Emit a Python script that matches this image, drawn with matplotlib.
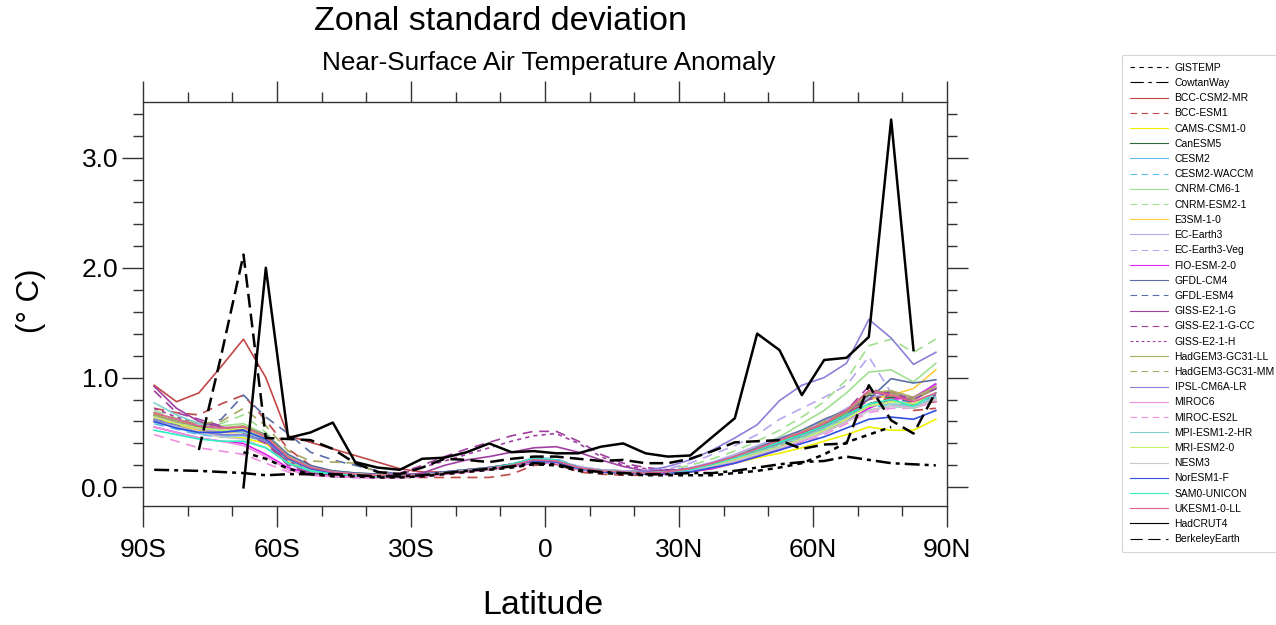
import numpy as np
import matplotlib.pyplot as plt
from matplotlib.lines import Line2D
from matplotlib.ticker import MultipleLocator

nan = np.nan
lat = np.arange(-87.5, 90, 5.0)

# model zonal standard deviation (deg C), 36 bands from 87.5S to 87.5N
models = {
    'BCC-CSM2-MR': [0.93, 0.78, 0.86, 1.10, 1.35, 1.00, 0.47, 0.41, 0.35, 0.29, 0.23, 0.17, 0.14, 0.14, 0.16, 0.18, 0.21, 0.25, 0.24, 0.18, 0.15, 0.14, 0.14, 0.15, 0.17, 0.22, 0.28, 0.35, 0.41, 0.48, 0.55, 0.66, 0.80, 0.88, 0.75, 0.78],
    'BCC-ESM1': [0.72, 0.68, 0.66, 0.76, 0.84, 0.61, 0.35, 0.20, 0.14, 0.11, 0.10, 0.09, 0.09, 0.09, 0.09, 0.09, 0.12, 0.20, 0.21, 0.14, 0.12, 0.11, 0.11, 0.12, 0.15, 0.19, 0.26, 0.33, 0.40, 0.47, 0.55, 0.64, 0.76, 0.82, 0.70, 0.72],
    'CAMS-CSM1-0': [0.62, 0.57, 0.50, 0.46, 0.45, 0.40, 0.24, 0.16, 0.13, 0.12, 0.11, 0.10, 0.11, 0.12, 0.14, 0.16, 0.19, 0.23, 0.23, 0.16, 0.14, 0.13, 0.12, 0.13, 0.14, 0.17, 0.22, 0.27, 0.31, 0.36, 0.42, 0.48, 0.55, 0.52, 0.52, 0.62],
    'CanESM5': [0.66, 0.60, 0.55, 0.52, 0.50, 0.44, 0.27, 0.18, 0.15, 0.13, 0.12, 0.11, 0.12, 0.14, 0.16, 0.18, 0.21, 0.25, 0.24, 0.18, 0.16, 0.15, 0.14, 0.15, 0.17, 0.21, 0.27, 0.34, 0.41, 0.49, 0.57, 0.68, 0.84, 0.82, 0.80, 0.90],
    'CESM2': [0.60, 0.54, 0.49, 0.47, 0.47, 0.42, 0.25, 0.16, 0.13, 0.12, 0.11, 0.10, 0.11, 0.13, 0.15, 0.17, 0.20, 0.26, 0.25, 0.18, 0.15, 0.14, 0.13, 0.14, 0.16, 0.20, 0.25, 0.31, 0.37, 0.44, 0.52, 0.60, 0.70, 0.74, 0.72, 0.80],
    'CESM2-WACCM': [0.58, 0.53, 0.48, 0.46, 0.48, 0.43, 0.26, 0.17, 0.13, 0.12, 0.11, 0.10, 0.11, 0.13, 0.15, 0.17, 0.21, 0.27, 0.26, 0.19, 0.15, 0.14, 0.13, 0.14, 0.16, 0.20, 0.26, 0.32, 0.38, 0.45, 0.53, 0.62, 0.72, 0.76, 0.74, 0.83],
    'CNRM-CM6-1': [0.68, 0.62, 0.58, 0.56, 0.58, 0.48, 0.28, 0.18, 0.14, 0.12, 0.11, 0.10, 0.11, 0.13, 0.15, 0.17, 0.21, 0.26, 0.25, 0.18, 0.15, 0.14, 0.13, 0.14, 0.17, 0.22, 0.29, 0.37, 0.46, 0.58, 0.70, 0.86, 1.05, 1.07, 0.96, 1.13],
    'CNRM-ESM2-1': [0.70, 0.63, 0.59, 0.58, 0.66, 0.50, 0.29, 0.18, 0.14, 0.12, 0.11, 0.10, 0.11, 0.13, 0.15, 0.17, 0.21, 0.26, 0.25, 0.18, 0.15, 0.14, 0.14, 0.16, 0.20, 0.26, 0.33, 0.42, 0.52, 0.64, 0.78, 0.98, 1.29, 1.35, 1.23, 1.35],
    'E3SM-1-0': [0.64, 0.58, 0.52, 0.50, 0.50, 0.44, 0.26, 0.17, 0.14, 0.12, 0.11, 0.10, 0.11, 0.13, 0.15, 0.17, 0.20, 0.25, 0.24, 0.18, 0.15, 0.14, 0.13, 0.14, 0.16, 0.21, 0.27, 0.34, 0.42, 0.50, 0.60, 0.70, 0.80, 0.84, 0.90, 1.07],
    'EC-Earth3': [0.64, 0.59, 0.53, 0.51, 0.52, 0.45, 0.27, 0.17, 0.14, 0.12, 0.11, 0.11, 0.12, 0.14, 0.16, 0.18, 0.21, 0.26, 0.25, 0.19, 0.16, 0.15, 0.14, 0.15, 0.18, 0.23, 0.30, 0.38, 0.45, 0.52, 0.60, 0.72, 0.82, 0.86, 0.82, 0.90],
    'EC-Earth3-Veg': [0.65, 0.60, 0.54, 0.52, 0.53, 0.46, 0.28, 0.18, 0.14, 0.12, 0.11, 0.11, 0.12, 0.14, 0.16, 0.18, 0.21, 0.26, 0.25, 0.19, 0.16, 0.15, 0.15, 0.17, 0.22, 0.30, 0.38, 0.48, 0.62, 0.72, 0.82, 0.93, 1.19, 0.86, 0.80, 0.95],
    'FIO-ESM-2-0': [0.55, 0.50, 0.45, 0.42, 0.40, 0.30, 0.18, 0.12, 0.10, 0.09, 0.09, 0.09, 0.10, 0.12, 0.14, 0.16, 0.19, 0.22, 0.22, 0.16, 0.14, 0.13, 0.12, 0.12, 0.14, 0.17, 0.22, 0.28, 0.34, 0.42, 0.50, 0.60, 0.72, 0.80, 0.82, 0.94],
    'GFDL-CM4': [0.60, 0.55, 0.50, 0.50, 0.55, 0.48, 0.30, 0.20, 0.15, 0.13, 0.12, 0.11, 0.12, 0.14, 0.16, 0.18, 0.21, 0.25, 0.24, 0.18, 0.15, 0.14, 0.13, 0.14, 0.17, 0.22, 0.28, 0.36, 0.44, 0.52, 0.62, 0.70, 0.80, 0.99, 0.95, 0.98],
    'GFDL-ESM4': [0.62, 0.57, 0.55, 0.62, 0.84, 0.64, 0.49, 0.32, 0.25, 0.20, 0.15, 0.12, 0.12, 0.14, 0.16, 0.18, 0.21, 0.26, 0.25, 0.18, 0.15, 0.14, 0.13, 0.14, 0.17, 0.21, 0.27, 0.34, 0.41, 0.48, 0.56, 0.65, 0.76, 0.80, 0.78, 0.85],
    'GISS-E2-1-G': [0.92, 0.72, 0.60, 0.55, 0.52, 0.42, 0.22, 0.13, 0.11, 0.11, 0.11, 0.11, 0.13, 0.20, 0.25, 0.28, 0.32, 0.36, 0.37, 0.32, 0.25, 0.19, 0.15, 0.15, 0.17, 0.20, 0.26, 0.32, 0.40, 0.48, 0.56, 0.66, 0.86, 0.86, 0.80, 0.90],
    'GISS-E2-1-G-CC': [0.88, 0.68, 0.62, 0.56, 0.50, 0.40, 0.20, 0.12, 0.11, 0.11, 0.12, 0.13, 0.20, 0.28, 0.35, 0.41, 0.47, 0.51, 0.51, 0.42, 0.30, 0.22, 0.18, 0.16, 0.17, 0.21, 0.27, 0.34, 0.42, 0.50, 0.58, 0.70, 0.92, 0.80, 0.75, 0.85],
    'GISS-E2-1-H': [0.72, 0.64, 0.58, 0.54, 0.50, 0.42, 0.24, 0.14, 0.11, 0.11, 0.11, 0.12, 0.18, 0.24, 0.30, 0.36, 0.42, 0.47, 0.49, 0.40, 0.28, 0.20, 0.17, 0.15, 0.16, 0.20, 0.25, 0.31, 0.38, 0.46, 0.54, 0.64, 0.80, 0.84, 0.78, 0.84],
    'HadGEM3-GC31-LL': [0.66, 0.60, 0.56, 0.54, 0.56, 0.47, 0.28, 0.18, 0.14, 0.12, 0.11, 0.10, 0.11, 0.13, 0.15, 0.17, 0.20, 0.25, 0.24, 0.18, 0.15, 0.14, 0.13, 0.14, 0.17, 0.21, 0.27, 0.34, 0.42, 0.50, 0.58, 0.68, 0.86, 0.88, 0.82, 0.92],
    'HadGEM3-GC31-MM': [0.67, 0.62, 0.58, 0.60, 0.72, 0.56, 0.33, 0.24, 0.23, 0.22, 0.14, 0.11, 0.11, 0.13, 0.15, 0.17, 0.20, 0.25, 0.24, 0.18, 0.15, 0.14, 0.13, 0.14, 0.17, 0.21, 0.28, 0.35, 0.43, 0.51, 0.60, 0.70, 0.88, 0.86, 0.80, 0.90],
    'IPSL-CM6A-LR': [0.62, 0.56, 0.50, 0.48, 0.48, 0.42, 0.26, 0.17, 0.14, 0.12, 0.11, 0.10, 0.11, 0.13, 0.15, 0.17, 0.20, 0.25, 0.24, 0.18, 0.15, 0.14, 0.15, 0.19, 0.25, 0.34, 0.45, 0.57, 0.79, 0.93, 1.00, 1.13, 1.53, 1.36, 1.12, 1.23],
    'MIROC6': [0.55, 0.50, 0.45, 0.42, 0.38, 0.28, 0.16, 0.11, 0.10, 0.09, 0.09, 0.09, 0.10, 0.12, 0.14, 0.16, 0.19, 0.23, 0.22, 0.16, 0.14, 0.13, 0.12, 0.13, 0.15, 0.18, 0.23, 0.29, 0.35, 0.42, 0.50, 0.60, 0.70, 0.74, 0.74, 0.80],
    'MIROC-ES2L': [0.48, 0.42, 0.36, 0.33, 0.30, 0.22, 0.14, 0.11, 0.10, 0.09, 0.09, 0.09, 0.10, 0.12, 0.14, 0.16, 0.19, 0.22, 0.22, 0.16, 0.14, 0.13, 0.12, 0.13, 0.15, 0.18, 0.23, 0.28, 0.34, 0.40, 0.48, 0.58, 0.68, 0.72, 0.72, 0.78],
    'MPI-ESM1-2-HR': [0.77, 0.66, 0.58, 0.52, 0.50, 0.44, 0.26, 0.17, 0.14, 0.12, 0.11, 0.10, 0.11, 0.13, 0.15, 0.17, 0.20, 0.25, 0.24, 0.18, 0.15, 0.14, 0.13, 0.14, 0.16, 0.20, 0.26, 0.32, 0.39, 0.46, 0.54, 0.64, 0.74, 0.76, 0.74, 0.82],
    'MRI-ESM2-0': [0.64, 0.58, 0.54, 0.52, 0.54, 0.45, 0.26, 0.17, 0.13, 0.12, 0.11, 0.10, 0.11, 0.13, 0.15, 0.17, 0.20, 0.24, 0.23, 0.17, 0.15, 0.14, 0.13, 0.14, 0.16, 0.20, 0.25, 0.31, 0.37, 0.44, 0.52, 0.62, 0.74, 0.78, 0.76, 0.86],
    'NESM3': [0.60, 0.55, 0.50, 0.46, 0.44, 0.36, 0.22, 0.15, 0.12, 0.11, 0.10, 0.10, 0.11, 0.13, 0.15, 0.17, 0.20, 0.24, 0.23, 0.17, 0.14, 0.13, 0.12, 0.13, 0.15, 0.19, 0.24, 0.30, 0.36, 0.43, 0.50, 0.60, 0.70, 0.74, 0.72, 0.80],
    'NorESM1-F': [0.60, 0.54, 0.50, 0.50, 0.52, 0.44, 0.26, 0.17, 0.13, 0.11, 0.10, 0.10, 0.11, 0.13, 0.15, 0.17, 0.20, 0.24, 0.23, 0.17, 0.14, 0.13, 0.12, 0.13, 0.14, 0.18, 0.22, 0.28, 0.34, 0.40, 0.46, 0.54, 0.62, 0.64, 0.62, 0.70],
    'SAM0-UNICON': [0.52, 0.48, 0.44, 0.42, 0.42, 0.36, 0.22, 0.15, 0.12, 0.11, 0.10, 0.10, 0.11, 0.13, 0.15, 0.17, 0.21, 0.26, 0.25, 0.18, 0.15, 0.14, 0.13, 0.14, 0.16, 0.21, 0.27, 0.34, 0.41, 0.48, 0.56, 0.66, 0.76, 0.80, 0.74, 0.86],
    'UKESM1-0-LL': [0.68, 0.62, 0.56, 0.54, 0.55, 0.46, 0.27, 0.18, 0.14, 0.12, 0.11, 0.10, 0.11, 0.13, 0.15, 0.17, 0.20, 0.25, 0.24, 0.18, 0.15, 0.14, 0.13, 0.14, 0.17, 0.22, 0.28, 0.35, 0.43, 0.50, 0.58, 0.70, 0.88, 0.84, 0.78, 0.86],
}

# observational datasets (nan = no coverage)
gistemp = [nan, nan, nan, nan, 0.32, 0.26, 0.17, 0.12, 0.10, 0.10, 0.09, 0.09, 0.10, 0.12, 0.14, 0.16, 0.18, 0.21, 0.20, 0.15, 0.13, 0.12, 0.11, 0.11, 0.11, 0.11, 0.13, 0.15, 0.18, 0.22, 0.30, 0.41, 0.48, 0.55, nan, nan]
cowtanway = [0.16, 0.155, 0.15, 0.14, 0.13, 0.11, 0.12, 0.12, 0.12, 0.11, 0.10, 0.10, 0.11, 0.13, 0.15, 0.17, 0.19, 0.22, 0.21, 0.16, 0.14, 0.13, 0.12, 0.12, 0.13, 0.13, 0.15, 0.18, 0.21, 0.23, 0.24, 0.28, 0.25, 0.22, 0.21, 0.20]
hadcrut4 = [nan, nan, nan, nan, 0.0, 2.0, 0.45, 0.50, 0.59, 0.23, 0.18, 0.16, 0.26, 0.27, 0.32, 0.40, 0.32, 0.33, 0.31, 0.31, 0.37, 0.40, 0.31, 0.28, 0.29, 0.46, 0.63, 1.40, 1.25, 0.84, 1.16, 1.18, 1.37, 3.35, 1.25, nan]
berkeley = [nan, nan, 0.34, 1.20, 2.12, 0.45, 0.44, 0.43, 0.35, 0.22, 0.14, 0.12, 0.18, 0.26, 0.25, 0.23, 0.26, 0.28, 0.28, 0.26, 0.24, 0.25, 0.22, 0.22, 0.26, 0.33, 0.41, 0.42, 0.43, 0.35, 0.39, 0.40, 0.93, 0.61, 0.49, 0.87]

colors = {
    'BCC': '#c04848', 'CAMS': '#f0f000', 'CanESM5': '#2f6b3a', 'CESM2': '#60bff0',
    'CNRM': '#a0e090', 'E3SM': '#ffcc40', 'EC-Earth3': '#b8a8f0', 'FIO': '#e020f0',
    'GFDL': '#5a6fa8', 'GISS': '#a040a0', 'HadGEM3': '#a8a860', 'IPSL': '#8a80d8',
    'MIROC': '#f090e0', 'MPI': '#80d0d0', 'MRI': '#c8f060', 'NESM3': '#c8c8c8',
    'NorESM1': '#3050e0', 'SAM0': '#30f0c0', 'UKESM1': '#e06090',
}
long_dash = (6, 4)
short_dash = (2.5, 2.5)
styles = {
    'BCC-CSM2-MR': ('BCC', None), 'BCC-ESM1': ('BCC', long_dash),
    'CAMS-CSM1-0': ('CAMS', None), 'CanESM5': ('CanESM5', None),
    'CESM2': ('CESM2', None), 'CESM2-WACCM': ('CESM2', long_dash),
    'CNRM-CM6-1': ('CNRM', None), 'CNRM-ESM2-1': ('CNRM', long_dash),
    'E3SM-1-0': ('E3SM', None), 'EC-Earth3': ('EC-Earth3', None),
    'EC-Earth3-Veg': ('EC-Earth3', long_dash), 'FIO-ESM-2-0': ('FIO', None),
    'GFDL-CM4': ('GFDL', None), 'GFDL-ESM4': ('GFDL', long_dash),
    'GISS-E2-1-G': ('GISS', None), 'GISS-E2-1-G-CC': ('GISS', long_dash),
    'GISS-E2-1-H': ('GISS', short_dash), 'HadGEM3-GC31-LL': ('HadGEM3', None),
    'HadGEM3-GC31-MM': ('HadGEM3', long_dash), 'IPSL-CM6A-LR': ('IPSL', None),
    'MIROC6': ('MIROC', None), 'MIROC-ES2L': ('MIROC', long_dash),
    'MPI-ESM1-2-HR': ('MPI', None), 'MRI-ESM2-0': ('MRI', None),
    'NESM3': ('NESM3', None), 'NorESM1-F': ('NorESM1', None),
    'SAM0-UNICON': ('SAM0', None), 'UKESM1-0-LL': ('UKESM1', None),
}

plt.rcParams['font.family'] = ['Liberation Sans', 'DejaVu Sans']

fig = plt.figure(figsize=(12.76, 6.25), dpi=100)
ax = fig.add_axes([143 / 1276, 1 - 506 / 625, 804 / 1276, 404 / 625])

handles = []
obs_lw = 1.8

def obs_line(y, dashes, label):
    kw = {'color': 'black', 'lw': obs_lw, 'zorder': 5}
    if dashes:
        kw['dashes'] = dashes
    ax.plot(lat, y, **kw)
    hkw = {'color': 'black', 'lw': 0.8}
    if dashes:
        hkw['dashes'] = tuple(d * 2 for d in dashes)
    return Line2D([], [], label=label, **hkw)

handles.append(obs_line(gistemp, (2, 2), 'GISTEMP'))
handles.append(obs_line(cowtanway, (6, 2, 1.6, 2), 'CowtanWay'))

for name, vals in models.items():
    key, dashes = styles[name]
    kw = {'color': colors[key], 'lw': 1.2}
    if dashes:
        kw['dashes'] = dashes
    ax.plot(lat, vals, **kw)
    hkw = {'color': colors[key], 'lw': 0.8}
    if dashes:
        hkw['dashes'] = dashes
    handles.append(Line2D([], [], label=name, **hkw))

handles.append(obs_line(hadcrut4, None, 'HadCRUT4'))
handles.append(obs_line(berkeley, (5.5, 2.5), 'BerkeleyEarth'))

ax.set_xlim(-90, 90)
ax.set_ylim(-0.17, 3.51)
ax.set_xticks([-90, -60, -30, 0, 30, 60, 90])
ax.set_xticklabels(['90S', '60S', '30S', '0', '30N', '60N', '90N'])
ax.xaxis.set_minor_locator(MultipleLocator(10))
ax.set_yticks([0, 1, 2, 3])
ax.set_yticklabels(['0.0', '1.0', '2.0', '3.0'])
ax.yaxis.set_minor_locator(MultipleLocator(0.2))
ax.tick_params(which='both', direction='out', top=True, right=True,
               labelsize=19, width=1.0, color='#333333')
ax.tick_params(which='major', length=15, pad=8)
ax.tick_params(axis='y', which='major', pad=3)
ax.tick_params(which='minor', length=7.5)
for s in ax.spines.values():
    s.set_linewidth(1.0)
    s.set_color('#333333')

fig.text(500 / 1276, 1 - 22 / 625, 'Zonal standard deviation',
         ha='center', va='center', fontsize=24.5)
fig.text(549 / 1276, 1 - 63 / 625, 'Near-Surface Air Temperature Anomaly',
         ha='center', va='center', fontsize=18.8)
fig.text(543 / 1276, 1 - 606 / 625, 'Latitude', ha='center', va='center',
         fontsize=24.5)
fig.text(31 / 1276, 1 - 301 / 625, '(° C)', ha='center', va='center',
         fontsize=22.5, rotation=90)

leg = fig.legend(handles=handles, loc='upper left',
                 bbox_to_anchor=(1122 / 1276, 1 - 55 / 625),
                 borderaxespad=0, fontsize=7.5, frameon=True, fancybox=False,
                 handlelength=3.7, handletextpad=0.6, labelspacing=0.5,
                 borderpad=0.75)
leg.get_frame().set_edgecolor('#cccccc')
leg.get_frame().set_linewidth(0.8)

fig.savefig('out.png', dpi=100)
